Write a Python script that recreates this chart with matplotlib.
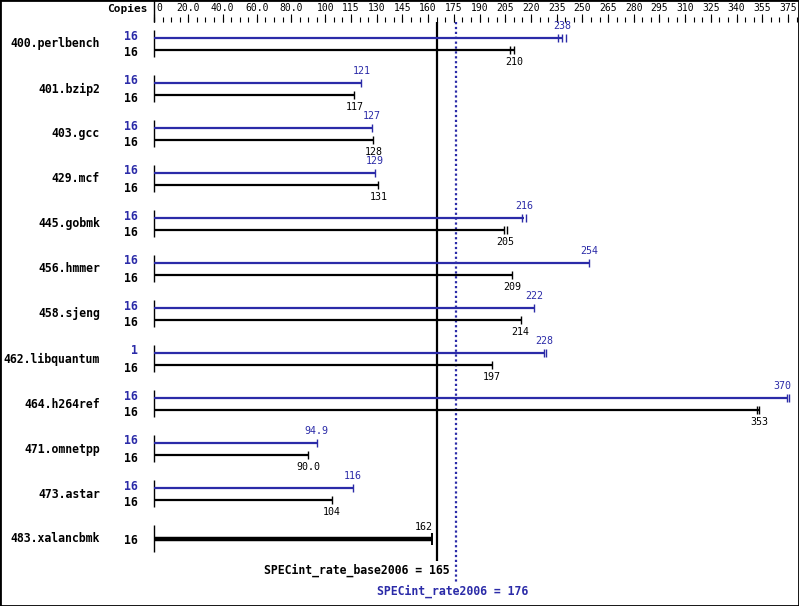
import numpy as np
import matplotlib
matplotlib.use("Agg")
import matplotlib.pyplot as plt

# SPECint_rate2006 results
benchmarks = ["400.perlbench", "401.bzip2", "403.gcc", "429.mcf", "445.gobmk",
              "456.hmmer", "458.sjeng", "462.libquantum", "464.h264ref",
              "471.omnetpp", "473.astar", "483.xalancbmk"]
peak = [238, 121, 127, 129, 216, 254, 222, 228, 370, 94.9, 116, None]
base = [210, 117, 128, 131, 205, 209, 214, 197, 353, 90.0, 104, 162]
peak_copies = [16, 16, 16, 16, 16, 16, 16, 1, 16, 16, 16, None]
base_copies = [16] * 12
# individual run values (end marks)
peak_runs = [[235.5, 238, 240.5], [121], [127], [129], [215, 217], [254], [222],
             [227.5, 228.7], [369.4, 370.6], [94.9], [116], None]
base_runs = [[207.5, 210], [117], [128], [131], [204, 206], [209], [214], [197],
             [351.8, 353.2], [90.0], [104], [162]]
peak_labels = ["238", "121", "127", "129", "216", "254", "222", "228", "370", "94.9", "116", None]
base_labels = ["210", "117", "128", "131", "205", "209", "214", "197", "353", "90.0", "104", "162"]

base_mean = 165
peak_mean = 176

tick_labels = [0, 20, 40, 60, 80, 100, 115, 130, 145, 160, 175, 190, 205, 220, 235,
               250, 265, 280, 295, 310, 325, 340, 355, 375]
tick_text = ["0", "20.0", "40.0", "60.0", "80.0"] + [str(v) for v in tick_labels[5:]]
long_ticks = [0, 20, 40, 60, 80, 100, 115, 130, 145, 160, 175, 190, 205, 220, 235,
              250, 265, 280, 295, 310, 325, 340, 355, 370]

BLUE = "#2b2ba8"
mono = "DejaVu Sans Mono"

W, H = 799, 606
fig = plt.figure(figsize=(W / 100, H / 100), dpi=100)
ax = fig.add_axes([0, 0, 1, 1])
s = 1.7135      # pixels per unit
x0 = 154        # pixel of zero
ax.set_xlim(-x0 / s, (W - x0) / s)
ax.set_ylim(H, 0)
ax.set_xticks([])
ax.set_yticks([])
for sp in ax.spines.values():
    sp.set_linewidth(2)
    sp.set_color("black")


def px(p):
    # pixel column -> data x
    return (p - x0) / s


# top scale
minor = np.arange(0, 376, 5)
ax.vlines(minor, 17, 21.5, color="black", lw=0.8)
ax.vlines(long_ticks, 14, 21.5, color="black", lw=0.8)
for v, t in zip(tick_labels, tick_text):
    ha = "left" if v == 0 else ("right" if v == 375 else "center")
    xx = v + (1.2 if v == 0 else 0)
    ax.text(xx, 8, t, ha=ha, va="center", fontsize=7, family=mono)
ax.vlines(0, 0, 22, color="black", lw=1)
ax.text(px(148), 9, "Copies", ha="right", va="center", fontsize=8,
        family=mono, weight="bold")

# mean lines
ax.vlines(base_mean, 22, 561, color="black", lw=1.6)
ax.vlines(peak_mean, 22, 584, color=BLUE, lw=1.6, linestyles=(0, (1, 1.2)))
ax.text(px(450), 570, "SPECint_rate_base2006 = %d" % base_mean, ha="right",
        va="center", fontsize=8.3, family=mono, weight="bold")
ax.text(px(453), 591, "SPECint_rate2006 = %d" % peak_mean, ha="center",
        va="center", fontsize=8.3, family=mono, weight="bold", color=BLUE)

for i, name in enumerate(benchmarks):
    top = 38 + 45 * i
    if peak[i] is None:
        yb = top + 6
        ax.text(px(100), yb - 1, name, ha="right", va="center", fontsize=8.3,
                family=mono, weight="bold")
        ax.vlines(0, yb - 14, yb + 13, color="black", lw=1)
        ax.text(px(138), yb + 1, str(base_copies[i]), ha="right", va="center",
                fontsize=8.3, family=mono, weight="bold")
        ax.hlines(yb, 0, base[i], color="black", lw=3.2)
        ax.vlines(base_runs[i], yb - 6, yb + 6, color="black", lw=1.4)
        ax.text(base[i] + 0.5, yb - 12, base_labels[i], ha="right", va="center",
                fontsize=7.2, family=mono)
        continue
    yp, yb = top, top + 12
    ax.text(px(100), top + 6, name, ha="right", va="center", fontsize=8.3,
            family=mono, weight="bold")
    ax.vlines(0, yp - 8, yb + 7, color="black", lw=1)
    ax.text(px(138), yp - 2, str(peak_copies[i]), ha="right", va="center",
            fontsize=8.3, family=mono, weight="bold", color=BLUE)
    ax.text(px(138), yb + 3, str(base_copies[i]), ha="right", va="center",
            fontsize=8.3, family=mono, weight="bold")
    ax.hlines(yp, 0, peak[i], color=BLUE, lw=1.6)
    ax.vlines(peak_runs[i], yp - 4, yp + 4, color=BLUE, lw=1.0)
    ax.hlines(yb, 0, base[i], color="black", lw=1.6)
    ax.vlines(base_runs[i], yb - 4, yb + 4, color="black", lw=1.0)
    ax.text(min(peak[i], px(782)), yp - 12, peak_labels[i], ha="center",
            va="center", fontsize=7.2, family=mono, color=BLUE)
    ax.text(base[i], yb + 12, base_labels[i], ha="center", va="center",
            fontsize=7.2, family=mono)

fig.savefig("out.png", dpi=100)
